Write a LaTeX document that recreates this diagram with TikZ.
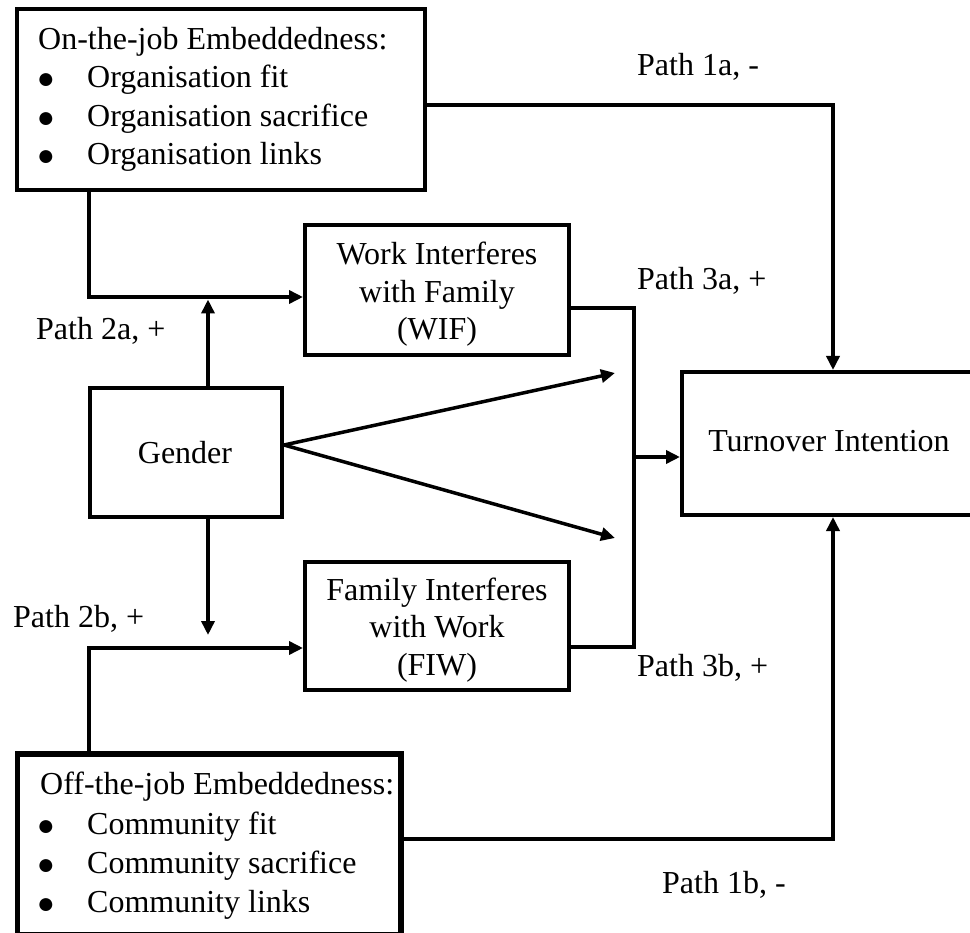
\documentclass[tikz,border=0pt]{standalone}
\usepackage{fontspec}
\setmainfont{Liberation Serif}
\usetikzlibrary{arrows.meta}

\tikzset{
  box/.style={draw, line width=4pt, inner sep=0pt, rectangle},
  thickbox/.style={box, line width=5.5pt},
  link/.style={line width=3.5pt},
  conn/.style={link, -{Triangle[length=14pt,width=13pt]}},
  lbl/.style={anchor=base west, inner sep=0pt},
  ctr/.style={anchor=base, inner sep=0pt},
  bul/.style={anchor=base, inner sep=0pt, font=\fontsize{30}{30}\selectfont},
}

\begin{document}
\begin{tikzpicture}[x=1pt, y=-1pt, font=\fontsize{32}{38}\selectfont]
\useasboundingbox (0,0) rectangle (970,933);

% boxes
\node[box, minimum width=408pt, minimum height=180.5pt] (onjob) at (221,99.75) {};
\node[box, minimum width=264pt, minimum height=130pt] (wif) at (437,290) {};
\node[box, minimum width=192pt, minimum height=129pt] (gender) at (186,452.5) {};
\node[box, minimum width=264pt, minimum height=128pt] (fiw) at (437,626) {};
\node[box, minimum width=328pt, minimum height=143pt] (turn) at (846,443.5) {};
\node[thickbox, minimum width=383.5pt, minimum height=181pt] (offjob) at (209.25,844.5) {};

% box texts
\node[lbl] (onjobT) at (38,50) {On-the-job Embeddedness:};
\node[bul] (ob1) at (46,89) {●};
\node[bul] (ob2) at (46,127.5) {●};
\node[bul] (ob3) at (46,166) {●};
\node[lbl] (oi1) at (87,88) {Organisation fit};
\node[lbl] (oi2) at (87,126.5) {Organisation sacrifice};
\node[lbl] (oi3) at (87,165) {Organisation links};

\node[ctr] (wifT1) at (437,265) {Work Interferes};
\node[ctr] (wifT2) at (437,302.5) {with Family};
\node[ctr] (wifT3) at (437,340) {(WIF)};

\node[ctr] (genderT) at (185,464) {Gender};

\node[ctr] (fiwT1) at (437,600) {Family Interferes};
\node[ctr] (fiwT2) at (437,637.5) {with Work};
\node[ctr] (fiwT3) at (437,675) {(FIW)};

\node[ctr] (turnT) at (829,451) {Turnover Intention};

\node[lbl] (offjobT) at (40,794) {Off-the-job Embeddedness:};
\node[bul] (cb1) at (46,835) {●};
\node[bul] (cb2) at (46,874) {●};
\node[bul] (cb3) at (46,913) {●};
\node[lbl] (ci1) at (87,834) {Community fit};
\node[lbl] (ci2) at (87,873) {Community sacrifice};
\node[lbl] (ci3) at (87,912) {Community links};

% path labels
\node[lbl] (l1a) at (637,76) {Path 1a, -};
\node[lbl] (l3a) at (637,290) {Path 3a, +};
\node[lbl] (l2a) at (36,340) {Path 2a, +};
\node[lbl] (l2b) at (13,627) {Path 2b, +};
\node[lbl] (l3b) at (637,676) {Path 3b, +};
\node[lbl] (l1b) at (662,893) {Path 1b, -};

% routing points
\coordinate (p1a) at (833,105);
\coordinate (p1b) at (833,839);
\coordinate (k2a) at (89,297);
\coordinate (k2b) at (89,648);
\coordinate (g2a) at (208,299.5);
\coordinate (g2b) at (208,635);
\coordinate (m3a) at (634,308);
\coordinate (m3b) at (634,647);
\coordinate (m3) at (634,457);
\coordinate (g3) at (282,445);
\coordinate (t3a) at (615,373);
\coordinate (t3b) at (615,538);

% path 1: embeddedness to turnover
\draw[conn] (onjob.east |- p1a) -| (turn.north -| p1a);
\draw[conn] (offjob.east |- p1b) -| (turn.south -| p1b);

% path 2: embeddedness and gender to conflict
\draw[conn] (onjob.south -| k2a) |- (wif.west |- k2a);
\draw[conn] (offjob.north -| k2b) |- (fiw.west |- k2b);
\draw[conn] (gender.north -| g2a) -- (g2a);
\draw[conn] (gender.south -| g2b) -- (g2b);

% path 3: conflict to turnover
\draw[link] (wif.east |- m3a) -- (m3a) -- (m3b) -- (fiw.east |- m3b);
\draw[conn] (m3) -- (turn.west |- m3);
\draw[conn] (gender.east |- g3) -- (t3a);
\draw[conn] (gender.east |- g3) -- (t3b);
\end{tikzpicture}
\end{document}
